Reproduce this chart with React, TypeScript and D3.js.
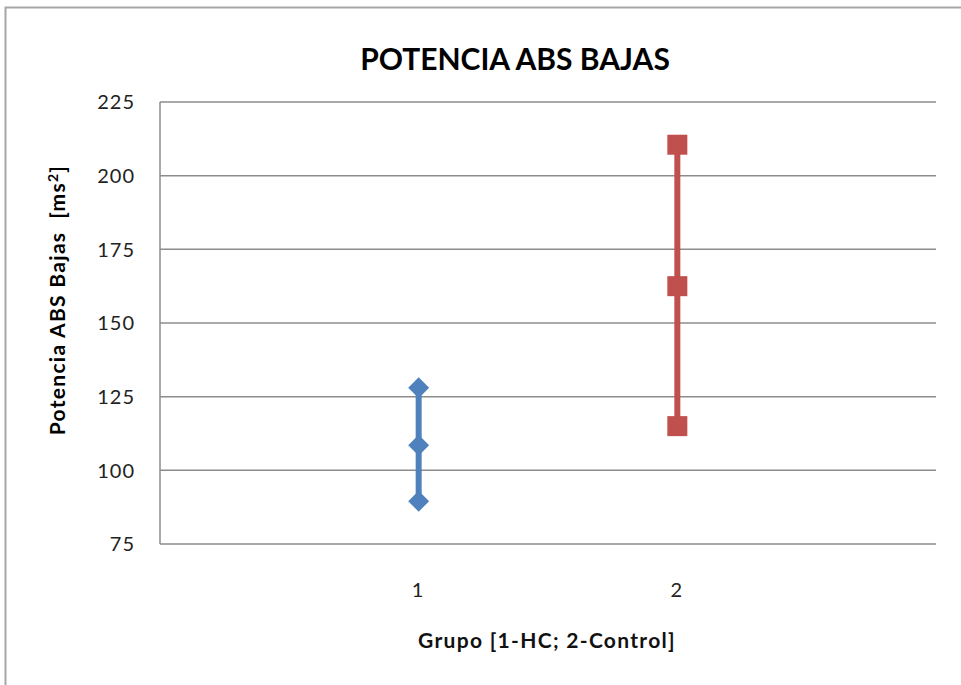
import React from "react";
import * as d3 from "d3";

const categories = [1, 2];
const series1 = { name: "HC", values: [128, 108.5, 89.5], color: "#4F81BD" };
const series2 = { name: "Control", values: [210.5, 162.5, 115], color: "#C0504D" };
const yTicks = [75, 100, 125, 150, 175, 200, 225];

export default function App() {
  const W = 961, H = 685;
  const left = 160, right = 936, top = 102, bottom = 544;
  const x = d3.scaleLinear().domain([0, 3]).range([left, right]);
  const y = d3.scaleLinear().domain([75, 225]).range([bottom, top]);
  const font = "Lato, 'Open Sans', sans-serif";
  const line = d3.line<number>().x(() => 0).y((d) => y(d));

  return (
    <svg width={W} height={H} style={{ position: "absolute", left: 0, top: 0 }}>
      <rect x={0} y={0} width={W} height={H} fill="#fff" />
      <path d={`M5.5,${H}V7.5H${W}`} fill="none" stroke="#a6a6a6" strokeWidth={2} />
      {yTicks.map((t) => (
        <g key={t}>
          <line x1={left} x2={right} y1={y(t)} y2={y(t)} stroke="#8c8c8c" strokeWidth={1.5} />
          <text x={135} y={y(t)} dy="0.36em" textAnchor="end" fontFamily={font} fontSize={20} letterSpacing={1} fill="#222">{t}</text>
        </g>
      ))}
      <line x1={left} x2={left} y1={top} y2={bottom} stroke="#8c8c8c" strokeWidth={1.5} />
      {categories.map((c) => (
        <text key={c} x={x(c) - 1} y={590} dy="0.36em" textAnchor="middle" fontFamily={font} fontSize={20} fill="#222">{c}</text>
      ))}
      <text x={515} y={59} dy="0.36em" textAnchor="middle" fontFamily={font} fontWeight="bold" fontSize={30} fill="#000">POTENCIA ABS BAJAS</text>
      <text x={547} y={640} dy="0.36em" textAnchor="middle" fontFamily={font} fontWeight="bold" fontSize={21} letterSpacing={1.3} fill="#111">Grupo [1-HC; 2-Control]</text>
      <text transform={`translate(57,300) rotate(-90)`} textAnchor="middle" dy="0.36em" fontFamily={font} fontWeight="bold" fontSize={21} letterSpacing={1.3} fill="#000" style={{ whiteSpace: "pre" }}>
        {"Potencia ABS Bajas  [ms"}<tspan dy="-7" fontSize={14}>2</tspan><tspan dy="7">]</tspan>
      </text>
      {[series1, series2].map((s, i) => (
        <g key={s.name} transform={`translate(${x(categories[i])},0)`}>
          <path d={line(s.values) || ""} stroke={s.color} strokeWidth={6} fill="none" />
          {s.values.map((v, j) =>
            i === 0 ? (
              <rect key={j} x={-7.4} y={-7.4} width={14.8} height={14.8} fill={s.color} transform={`translate(0,${y(v)}) rotate(45)`} />
            ) : (
              <rect key={j} x={-10} y={y(v) - 10} width={20} height={20} fill={s.color} />
            )
          )}
        </g>
      ))}
    </svg>
  );
}
